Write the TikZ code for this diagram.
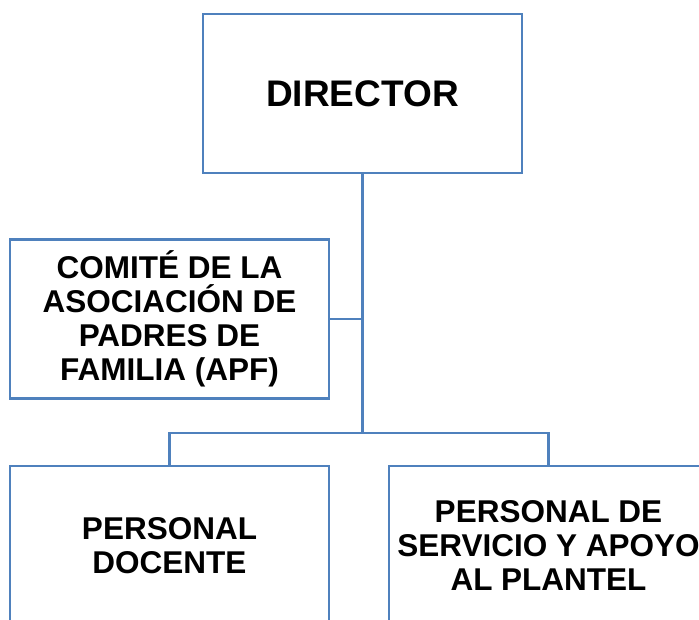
\documentclass[tikz,border=0pt]{standalone}
\usepackage{fontspec}
\setmainfont{Liberation Sans}
\definecolor{boxblue}{RGB}{79,129,189}
\tikzset{
  orgbox/.style={draw=boxblue, line width=2.6pt, fill=white, minimum width=319pt, minimum height=159pt, inner sep=0pt, align=center, font=\bfseries\fontsize{31.5}{34}\selectfont},
  link/.style={draw=boxblue, line width=2.6pt}
}
\begin{document}
\begin{tikzpicture}[x=1pt,y=-1pt]
\clip (0,0) rectangle (699,620);
\fill[white] (0,0) rectangle (699,620);
\node[orgbox, font=\bfseries\fontsize{37}{40}\selectfont] (dir) at (362.5,93.5) {DIRECTOR};
\node[orgbox] (apf) at (169.5,319) {COMITÉ DE LA\\ASOCIACIÓN DE\\PADRES DE\\FAMILIA (APF)};
\node[orgbox] (pd) at (169.5,545.5) {PERSONAL\\DOCENTE};
\node[orgbox] (ps) at (548.5,545.5) {PERSONAL DE\\SERVICIO Y APOYO\\AL PLANTEL};
\coordinate (j) at (362.5,433);
\draw[link] (dir.south) -- (j);
\draw[link] (apf.east) -- (apf.east -| dir.south);
\draw[link] (pd.north) |- (j) -| (ps.north);
\end{tikzpicture}
\end{document}
